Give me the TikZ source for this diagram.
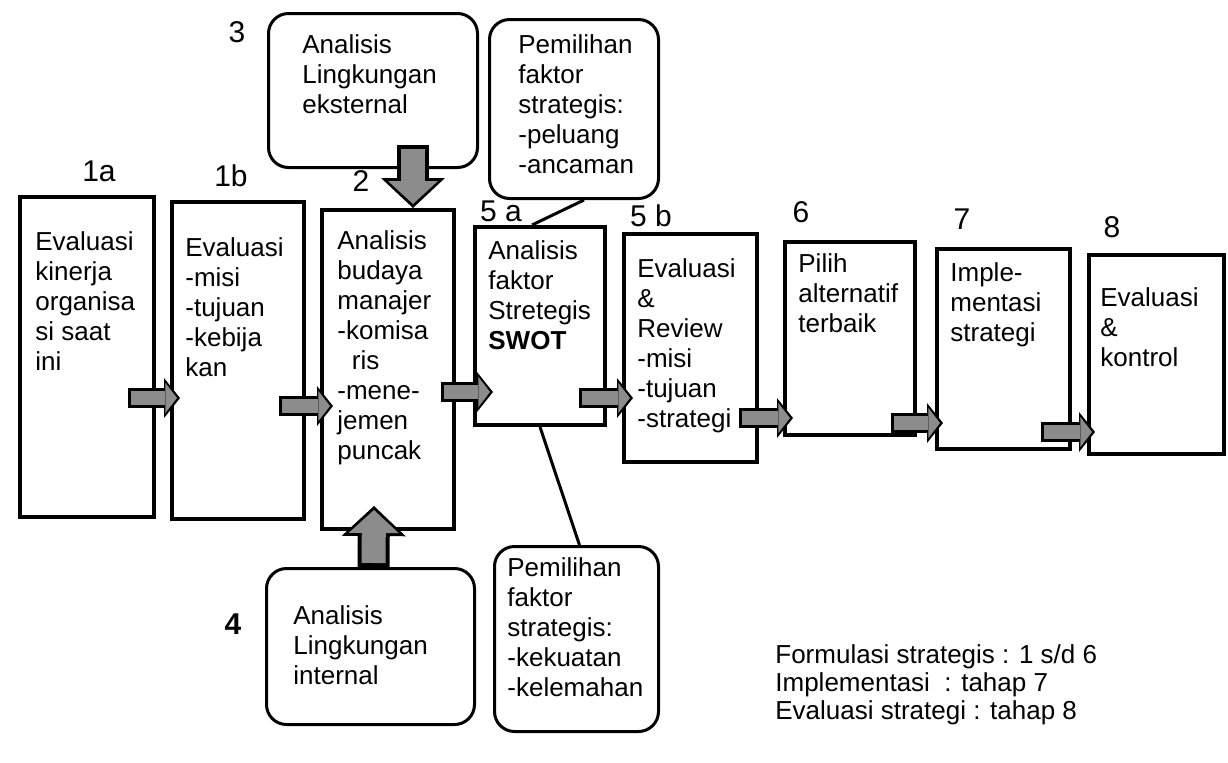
\documentclass[tikz,border=0pt]{standalone}
\usepackage{fontspec}
\setmainfont{Liberation Sans}
\usetikzlibrary{arrows.meta,calc,positioning}

\tikzset{
  stepbox/.style={draw, line width=2pt, inner sep=0pt, anchor=north west},
  envbox/.style={draw, line width=1.5pt, rounded corners=10pt, inner sep=0pt, anchor=north west},
  boxtext/.style={anchor=north west, inner sep=0pt, align=left, font=\fontsize{13}{15}\selectfont},
  steplabel/.style={inner sep=0pt, font=\fontsize{15}{18}\selectfont},
  tie/.style={line width=1.5pt},
  flowrim/.style={line width=10pt, -{Triangle[length=8pt,width=20pt,line width=0pt]}},
  flow/.style={line width=7pt, draw=black!45, shorten <=1.5pt, shorten >=1.5pt,
    -{Triangle[length=5.8pt,width=15pt,line width=0pt]}},
  bigrim/.style={line width=16pt, -{Triangle[length=15pt,width=32pt,line width=0pt]}},
  bigflow/.style={line width=12pt, draw=black!45, shorten <=2pt, shorten >=2pt,
    -{Triangle[length=11.5pt,width=25pt,line width=0pt]}}
}

\begin{document}
\begin{tikzpicture}[x=0.5pt,y=-0.5pt]
  \useasboundingbox (0,0) rectangle (1228,762);

  % tahap boxes
  \foreach \n/\x/\y/\w/\h in {1a/18/195/67/160, 1b/170/200/66/158.5, 2/320/208/66/159.5,
      5a/473/225/65/99, 5b/622/232/66.5/114, 6/783/240/65/96.5, 7/935/247/66.5/100, 8/1087/253/67.5/99.5}
    \node[stepbox, minimum width=\w pt, minimum height=\h pt] (b\n) at (\x,\y) {};

  % lingkungan and pemilihan boxes
  \node[envbox, minimum width=104.5pt, minimum height=77pt] (b3) at (267,12) {};
  \node[envbox, minimum width=84.5pt, minimum height=89.5pt] (p1) at (488,18) {};
  \node[envbox, minimum width=104pt, minimum height=78pt] (b4) at (265,567) {};
  \node[envbox, minimum width=82pt, minimum height=92.5pt] (p2) at (493,545) {};

  \node[boxtext] (t1a) at ([shift={(17,36)}]b1a.north west) {Evaluasi\\kinerja\\organisa\\si saat\\ini};
  \node[boxtext] (t1b) at ([shift={(15,37)}]b1b.north west) {Evaluasi\\-misi\\-tujuan\\-kebija\\kan};
  \node[boxtext] (t2) at ([shift={(17,22)}]b2.north west)
    {Analisis\\budaya\\manajer\\-komisa\\\ \ ris\\-mene-\\jemen\\puncak};
  \node[boxtext] (t5a) at ([shift={(15,15)}]b5a.north west) {Analisis\\faktor\\Stretegis\\\textbf{SWOT}};
  \node[boxtext] (t5b) at ([shift={(15,26)}]b5b.north west) {Evaluasi\\\&\\Review\\-misi\\-tujuan\\-strategi};
  \node[boxtext] (t6) at ([shift={(15,13)}]b6.north west) {Pilih\\alternatif\\terbaik};
  \node[boxtext] (t7) at ([shift={(15,15)}]b7.north west) {Imple-\\mentasi\\strategi};
  \node[boxtext] (t8) at ([shift={(13,34)}]b8.north west) {Evaluasi\\\&\\kontrol};
  \node[boxtext] (t3) at ([shift={(35,22)}]b3.north west) {Analisis\\Lingkungan\\eksternal};
  \node[boxtext] (tp1) at ([shift={(30,16)}]p1.north west) {Pemilihan\\faktor\\strategis:\\-peluang\\-ancaman};
  \node[boxtext] (t4) at ([shift={(28,38)}]b4.north west) {Analisis\\Lingkungan\\internal};
  \node[boxtext] (tp2) at ([shift={(14,12)}]p2.north west) {Pemilihan\\faktor\\strategis:\\-kekuatan\\-kelemahan};

  % nomor tahap
  \node[steplabel] (l1a) at (99,171) {1a};
  \node[steplabel] (l1b) at (231,176) {1b};
  \node[steplabel] (l2) at (361,181) {2};
  \node[steplabel] (l3) at (237,32) {3};
  \node[steplabel, font=\fontsize{15}{18}\selectfont\bfseries] (l4) at (233,624) {4};
  \node[steplabel] (l5a) at (501,211) {5 a};
  \node[steplabel] (l5b) at (651,216) {5 b};
  \node[steplabel] (l6) at (801,212) {6};
  \node[steplabel] (l7) at (962,219) {7};
  \node[steplabel] (l8) at (1112,227) {8};

  \draw[tie] ($(p1.south)+(10,0)$) -- ($(b5a.north)+(-8,0)$);
  \draw[tie] (b5a.south) -- ($(p2.north)+(3,0)$);

  \draw[bigrim] ($(b3.south)+(40,-24)$) -- ($(b2.north)+(25,0)$);
  \draw[bigflow] ($(b3.south)+(40,-24)$) -- ($(b2.north)+(25,0)$);
  \draw[bigrim] ($(b4.north)+(3,0)$) -- ($(b2.south)+(-14,-25)$);
  \draw[bigflow] ($(b4.north)+(3,0)$) -- ($(b2.south)+(-14,-25)$);

  \foreach \src/\dst/\y/\s/\t in {b1a/b1b/398/-28/10, b1b/b2/406/-27/13, b2/b5a/392/-15/20,
      b5a/b5b/398/-28/11, b5b/b6/418/-20/10, b6/b7/423/-26/8, b7/b8/432/-31/8}{
    \draw[flowrim] ($(\src.east |- 0,\y)+(\s,0)$) -- ($(\dst.west |- 0,\y)+(\t,0)$);
    \draw[flow] ($(\src.east |- 0,\y)+(\s,0)$) -- ($(\dst.west |- 0,\y)+(\t,0)$);
  }

  \node[anchor=north west, inner sep=0pt, align=left, font=\fontsize{13}{14}\selectfont] (legend) at (775,644)
    {Formulasi strategis : 1 s/d 6\\Implementasi\ \ : tahap 7\\Evaluasi strategi : tahap 8};
\end{tikzpicture}
\end{document}
